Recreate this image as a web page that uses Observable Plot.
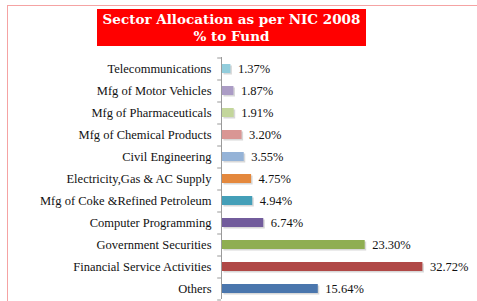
<!DOCTYPE html>
<html>
<head>
<meta charset="utf-8">
<script src="https://cdn.jsdelivr.net/npm/d3@7"></script>
<script src="https://cdn.jsdelivr.net/npm/@observablehq/plot@0.6"></script>
<style>
  html, body { margin: 0; padding: 0; width: 477px; height: 301px; overflow: hidden; background: #fff; }
  #frame { position: absolute; left: 7px; top: 5px; width: 520px; height: 340px; border: 1px solid #f5a3a3; box-sizing: border-box; }
  #title { position: absolute; left: 97px; top: 9px; width: 269px; height: 37px; background: #ff0000; color: #fff;
           font-family: "DejaVu Serif", serif; font-weight: bold; font-size: 13.5px; line-height: 16.5px;
           text-align: center; padding-top: 2px; box-sizing: border-box; }
  #chart { position: absolute; left: 0; top: 52px; }
  #chart svg, #chart svg text { font-family: "Liberation Serif", "Times New Roman", serif !important; }
</style>
</head>
<body>
<div id="frame"></div>
<div id="title">Sector Allocation as per NIC 2008<br>% to Fund</div>
<div id="chart"></div>
<script>
const categories = [
  "Telecommunications",
  "Mfg of Motor Vehicles",
  "Mfg of Pharmaceuticals",
  "Mfg of Chemical Products",
  "Civil Engineering",
  "Electricity,Gas & AC Supply",
  "Mfg of Coke &Refined Petroleum",
  "Computer Programming",
  "Government Securities",
  "Financial Service Activities",
  "Others"
];
const values = [1.37, 1.87, 1.91, 3.20, 3.55, 4.75, 4.94, 6.74, 23.30, 32.72, 15.64];
const valueLabels = ["1.37%", "1.87%", "1.91%", "3.20%", "3.55%", "4.75%", "4.94%", "6.74%", "23.30%", "32.72%", "15.64%"];
const colors = ["#92cddc", "#ab9cc5", "#c3d69b", "#d99694", "#95b3d7", "#e4883d", "#449fb8", "#725c9c", "#8fae52", "#b04846", "#4a76ad"];

const data = categories.map((c, i) => ({ category: c, value: values[i], label: valueLabels[i], color: colors[i] }));

const font = "Liberation Serif";

const chart = Plot.plot({
  width: 477,
  height: 249,
  marginLeft: 222,
  marginRight: 10,
  marginTop: 5,
  marginBottom: 2,
  style: "font-family: 'Liberation Serif', serif; font-size: 12px; color: #111; background: transparent;",
  x: { domain: [0, 40], axis: null },
  y: { domain: categories, paddingInner: 0.6, paddingOuter: 0.3, axis: null },
  marks: [
    Plot.axisY({ tickSize: 0, tickPadding: 11, label: null, fontSize: 12.5, fontFamily: font, fill: "#111" }),
    Plot.barX(data, { y: "category", x: "value", fill: "#c8c8c8", fillOpacity: 0.7, dx: 1.5, dy: 1.5 }),
    Plot.barX(data, { y: "category", x: "value", fill: "color" }),
    Plot.text(data, { y: "category", x: "value", text: "label", textAnchor: "start", dx: 7, fontSize: 12.5, fontFamily: font, fill: "#111" }),
    Plot.ruleX([0], { dx: -1, stroke: "#9a9a9a", strokeWidth: 1 }),
    Plot.ruleY(categories, { y: d => d, x1: -0.62, x2: 0, dx: -1, dy: -11, stroke: "#9a9a9a" }),
    Plot.ruleY([categories[categories.length - 1]], { y: d => d, x1: -0.62, x2: 0, dx: -1, dy: 11, stroke: "#9a9a9a" })
  ]
});
document.getElementById("chart").appendChild(chart);
</script>
</body>
</html>
